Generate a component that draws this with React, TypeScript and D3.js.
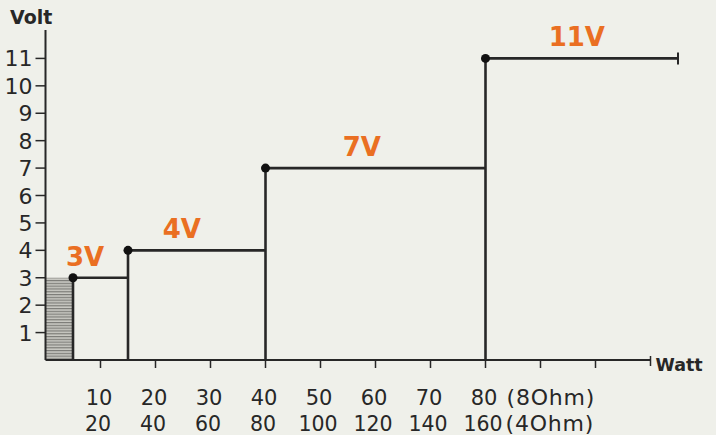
import React, { useEffect, useRef } from "react";
import * as d3 from "d3";

// step chart: output voltage per power range
const stepStart = [5, 15, 40, 80]; // watt where each level begins
const stepEnd = [15, 40, 80, 115]; // watt where each level ends
const stepVolts = [3, 4, 7, 11];
const stepLabels = ["3V", "4V", "7V", "11V"];
const labelWatt = [7.2, 24.8, 57.5, 96.6]; // where the orange label sits

const voltTicks = [1, 2, 3, 4, 5, 6, 7, 8, 9, 10, 11];
const wattTicks = [10, 20, 30, 40, 50, 60, 70, 80, 90, 100];
const watt8Labels = ["10", "20", "30", "40", "50", "60", "70", "80"];
const watt4Labels = ["20", "40", "60", "80", "100", "120", "140", "160"];
const hatchVolts = 3; // shaded area under the first step

const W = 716;
const H = 435;

const App = () => {
  const ref = useRef<SVGSVGElement>(null);

  useEffect(() => {
    const svg = d3.select(ref.current);
    svg.selectAll("*").remove();

    const x = d3.scaleLinear().domain([0, 110]).range([45.5, 650.5]);
    const y = d3.scaleLinear().domain([0, 12]).range([360, 31]);
    const ink = "#272727";
    const orange = "#ea6f22";
    const font = "'DejaVu Sans', sans-serif";

    svg.append("rect").attr("width", W).attr("height", H).attr("fill", "#eff0ea");

    // hatch pattern
    const defs = svg.append("defs");
    const pat = defs
      .append("pattern")
      .attr("id", "hatch")
      .attr("patternUnits", "userSpaceOnUse")
      .attr("width", 6)
      .attr("height", 2.8);
    pat.append("rect").attr("width", 6).attr("height", 2.8).attr("fill", "#c9c9c3");
    pat.append("rect").attr("width", 6).attr("height", 1.2).attr("fill", "#7c7c78");

    svg
      .append("rect")
      .attr("x", x(0))
      .attr("y", y(hatchVolts))
      .attr("width", x(stepStart[0]) - x(0))
      .attr("height", y(0) - y(hatchVolts))
      .attr("fill", "url(#hatch)");

    // y axis
    svg
      .append("line")
      .attr("x1", x(0))
      .attr("x2", x(0))
      .attr("y1", y(0))
      .attr("y2", 30)
      .attr("stroke", ink)
      .attr("stroke-width", 2);
    const yt = svg.selectAll("g.yt").data(voltTicks).enter().append("g");
    yt.append("line")
      .attr("x1", x(0) - 10)
      .attr("x2", x(0))
      .attr("y1", (d) => y(d))
      .attr("y2", (d) => y(d))
      .attr("stroke", ink)
      .attr("stroke-width", 1.5);
    yt.append("text")
      .attr("x", x(0) - 13)
      .attr("y", (d) => y(d) + 8)
      .attr("text-anchor", "end")
      .attr("font-family", font)
      .attr("font-size", 22)
      .attr("fill", ink)
      .text((d) => d);
    svg
      .append("text")
      .attr("x", 10)
      .attr("y", 24)
      .attr("font-family", font)
      .attr("font-size", 19)
      .attr("font-weight", "bold")
      .attr("fill", ink)
      .text("Volt");

    // x axis
    svg
      .append("line")
      .attr("x1", x(0))
      .attr("x2", x(110))
      .attr("y1", y(0))
      .attr("y2", y(0))
      .attr("stroke", ink)
      .attr("stroke-width", 2);
    svg
      .selectAll("line.xt")
      .data(wattTicks)
      .enter()
      .append("line")
      .attr("x1", (d) => x(d))
      .attr("x2", (d) => x(d))
      .attr("y1", y(0))
      .attr("y2", y(0) + 8)
      .attr("stroke", ink)
      .attr("stroke-width", 1.5);
    svg
      .append("line")
      .attr("x1", x(110))
      .attr("x2", x(110))
      .attr("y1", y(0) - 4)
      .attr("y2", y(0) + 6)
      .attr("stroke", ink)
      .attr("stroke-width", 1.5);
    svg
      .append("text")
      .attr("x", x(110) + 5)
      .attr("y", y(0) + 11)
      .attr("font-family", font)
      .attr("font-size", 17.5)
      .attr("font-weight", "bold")
      .attr("fill", ink)
      .text("Watt");

    svg
      .selectAll("text.w8")
      .data(watt8Labels)
      .enter()
      .append("text")
      .attr("x", (_, i) => x(wattTicks[i]) - 1.5)
      .attr("y", 405)
      .attr("text-anchor", "middle")
      .attr("font-family", font)
      .attr("font-size", 21)
      .attr("fill", ink)
      .text((d) => d);
    svg
      .selectAll("text.w4")
      .data(watt4Labels)
      .enter()
      .append("text")
      .attr("x", (_, i) => x(wattTicks[i]) - 2.5)
      .attr("y", 431)
      .attr("text-anchor", "middle")
      .attr("font-family", font)
      .attr("font-size", 20.5)
      .attr("fill", ink)
      .text((d) => d);
    svg
      .append("text")
      .attr("x", x(80) + 21)
      .attr("y", 405)
      .attr("font-family", font)
      .attr("font-size", 22)
      .attr("letter-spacing", 0.8)
      .attr("fill", ink)
      .text("(8Ohm)");
    svg
      .append("text")
      .attr("x", x(80) + 20)
      .attr("y", 431)
      .attr("font-family", font)
      .attr("font-size", 22)
      .attr("letter-spacing", 0.8)
      .attr("fill", ink)
      .text("(4Ohm)");

    // steps
    const g = svg.selectAll("g.step").data(stepVolts).enter().append("g");
    g.append("line")
      .attr("x1", (_, i) => x(stepStart[i]))
      .attr("x2", (_, i) => x(stepStart[i]))
      .attr("y1", y(0))
      .attr("y2", (d) => y(d))
      .attr("stroke", ink)
      .attr("stroke-width", 2.6);
    g.append("line")
      .attr("x1", (_, i) => x(stepStart[i]))
      .attr("x2", (_, i) => x(stepEnd[i]))
      .attr("y1", (d) => y(d))
      .attr("y2", (d) => y(d))
      .attr("stroke", ink)
      .attr("stroke-width", 2.6);
    g.append("circle")
      .attr("cx", (_, i) => x(stepStart[i]))
      .attr("cy", (d) => y(d))
      .attr("r", 4.5)
      .attr("fill", "#111");
    g.append("text")
      .attr("x", (_, i) => x(labelWatt[i]))
      .attr("y", (d) => y(d) - 12)
      .attr("text-anchor", "middle")
      .attr("font-family", font)
      .attr("font-size", 26)
      .attr("font-weight", "bold")
      .attr("fill", orange)
      .text((_, i) => stepLabels[i]);

    // end cap of the last level
    const last = stepVolts.length - 1;
    svg
      .append("line")
      .attr("x1", x(stepEnd[last]))
      .attr("x2", x(stepEnd[last]))
      .attr("y1", y(stepVolts[last]) - 6)
      .attr("y2", y(stepVolts[last]) + 6)
      .attr("stroke", ink)
      .attr("stroke-width", 2);
  }, []);

  return (
    <svg
      ref={ref}
      width={W}
      height={H}
      style={{ position: "absolute", left: 0, top: 0 }}
    />
  );
};

export default App;
